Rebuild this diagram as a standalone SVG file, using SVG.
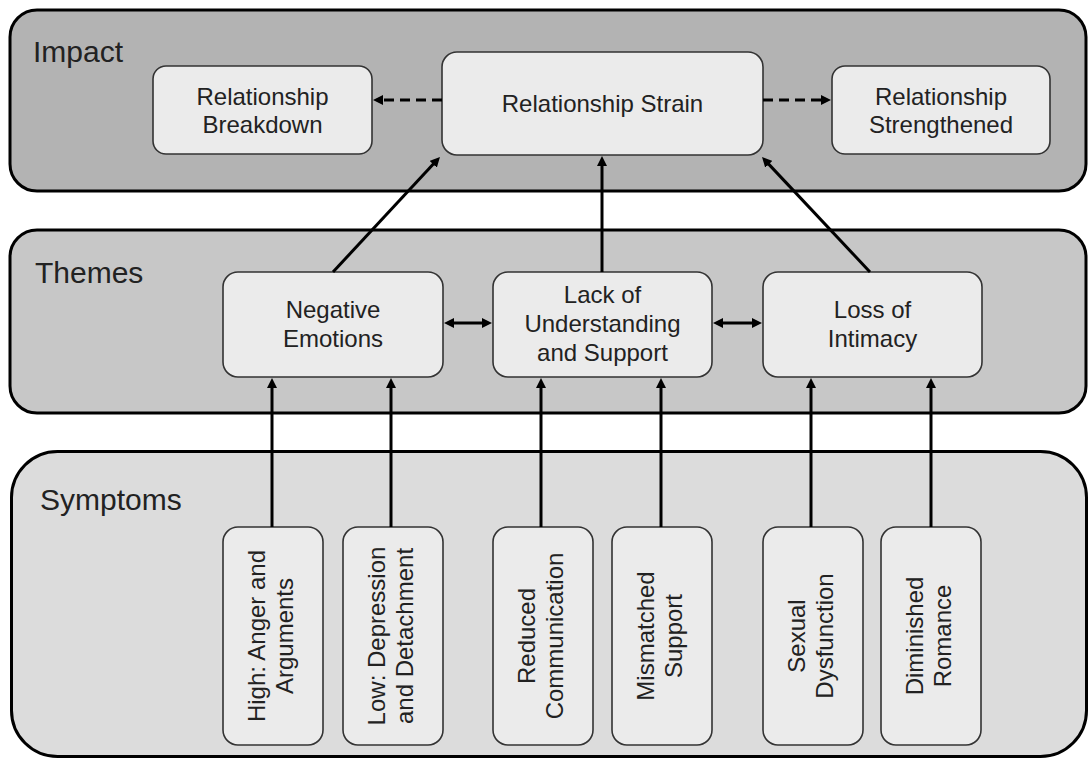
<svg xmlns="http://www.w3.org/2000/svg" width="1088" height="758" viewBox="0 0 1088 758">
<defs>
<style>
.cont{stroke:#000;stroke-width:3}
.node{fill:#ebebeb;stroke:#333;stroke-width:1.6}
.title{font-family:"Liberation Sans",Arial,sans-serif;font-size:30px;fill:#222}
.lbl{font-family:"Liberation Sans",Arial,sans-serif;font-size:24px;fill:#222;text-anchor:middle}
.conn{stroke:#000;stroke-width:3;fill:none}
.dash{stroke-dasharray:10 6}
</style>
<marker id="ah" viewBox="0 0 10 10" markerWidth="10" markerHeight="10" markerUnits="userSpaceOnUse" refX="3" refY="5" orient="auto-start-reverse">
<path d="M0,0 L10,5 L0,10 z" fill="#000"/>
</marker>
</defs>
<rect width="1088" height="758" fill="#fff"/>
<g id="containers">
<g id="impact-group">
<rect class="cont" x="10" y="10" width="1076" height="181" rx="27" fill="#b3b3b3"/>
<text class="title" x="33" y="62">Impact</text>
</g>
<g id="themes-group">
<rect class="cont" x="10" y="230" width="1076" height="183" rx="27" fill="#c7c7c7"/>
<text class="title" x="35" y="283">Themes</text>
</g>
<g id="symptoms-group">
<rect class="cont" x="11.5" y="451.5" width="1075" height="305" rx="46" fill="#dcdcdc"/>
<text class="title" x="40" y="510">Symptoms</text>
</g>
</g>
<g id="breakdown">
<rect class="node" x="153" y="66" width="219" height="88" rx="13"/>
<text class="lbl" x="262.5" y="105">Relationship</text>
<text class="lbl" x="262.5" y="133">Breakdown</text>
</g>
<g id="strain">
<rect class="node" x="442" y="52" width="321" height="103" rx="15"/>
<text class="lbl" x="602.5" y="112">Relationship Strain</text>
</g>
<g id="strengthened">
<rect class="node" x="832" y="66" width="218" height="88" rx="13"/>
<text class="lbl" x="941" y="105">Relationship</text>
<text class="lbl" x="941" y="133">Strengthened</text>
</g>
<g id="negative">
<rect class="node" x="223" y="272" width="220" height="105" rx="15"/>
<text class="lbl" x="333" y="318">Negative</text>
<text class="lbl" x="333" y="347">Emotions</text>
</g>
<g id="lack">
<rect class="node" x="493" y="272" width="219" height="105" rx="15"/>
<text class="lbl" x="602.5" y="303">Lack of</text>
<text class="lbl" x="602.5" y="332">Understanding</text>
<text class="lbl" x="602.5" y="361">and Support</text>
</g>
<g id="loss">
<rect class="node" x="763" y="272" width="219" height="105" rx="15"/>
<text class="lbl" x="872.5" y="318">Loss of</text>
<text class="lbl" x="872.5" y="347">Intimacy</text>
</g>
<g id="high">
<rect class="node" x="223" y="527" width="100" height="218" rx="15"/>
<text class="lbl" transform="translate(273,636) rotate(-90)"><tspan x="0" y="-8.5">High: Anger and</tspan><tspan x="0" y="19.5">Arguments</tspan></text>
</g>
<g id="low">
<rect class="node" x="343" y="527" width="100" height="218" rx="15"/>
<text class="lbl" transform="translate(393,636) rotate(-90)"><tspan x="0" y="-8.5">Low: Depression</tspan><tspan x="0" y="19.5">and Detachment</tspan></text>
</g>
<g id="reduced">
<rect class="node" x="493" y="527" width="100" height="218" rx="15"/>
<text class="lbl" transform="translate(543,636) rotate(-90)"><tspan x="0" y="-8.5">Reduced</tspan><tspan x="0" y="19.5">Communication</tspan></text>
</g>
<g id="mismatched">
<rect class="node" x="612" y="527" width="100" height="218" rx="15"/>
<text class="lbl" transform="translate(662,636) rotate(-90)"><tspan x="0" y="-8.5">Mismatched</tspan><tspan x="0" y="19.5">Support</tspan></text>
</g>
<g id="sexual">
<rect class="node" x="763" y="527" width="100" height="218" rx="15"/>
<text class="lbl" transform="translate(813,636) rotate(-90)"><tspan x="0" y="-8.5">Sexual</tspan><tspan x="0" y="19.5">Dysfunction</tspan></text>
</g>
<g id="diminished">
<rect class="node" x="881" y="527" width="100" height="218" rx="15"/>
<text class="lbl" transform="translate(931,636) rotate(-90)"><tspan x="0" y="-8.5">Diminished</tspan><tspan x="0" y="19.5">Romance</tspan></text>
</g>
<g id="connectors">
<path class="conn dash" d="M442,100 H380" marker-end="url(#ah)"/>
<path class="conn dash" d="M763,100 H824" marker-end="url(#ah)"/>
<path class="conn" d="M333,272 L435.2,162.1" marker-end="url(#ah)"/>
<path class="conn" d="M602,272 V163" marker-end="url(#ah)"/>
<path class="conn" d="M870,272 L766.8,162.1" marker-end="url(#ah)"/>
<path class="conn" d="M451,323 H485" marker-start="url(#ah)" marker-end="url(#ah)"/>
<path class="conn" d="M720,323 H755" marker-start="url(#ah)" marker-end="url(#ah)"/>
<path class="conn" d="M272,527 V385" marker-end="url(#ah)"/>
<path class="conn" d="M391,527 V385" marker-end="url(#ah)"/>
<path class="conn" d="M541,527 V385" marker-end="url(#ah)"/>
<path class="conn" d="M661,527 V385" marker-end="url(#ah)"/>
<path class="conn" d="M811,527 V385" marker-end="url(#ah)"/>
<path class="conn" d="M931,527 V385" marker-end="url(#ah)"/>
</g>
</svg>
